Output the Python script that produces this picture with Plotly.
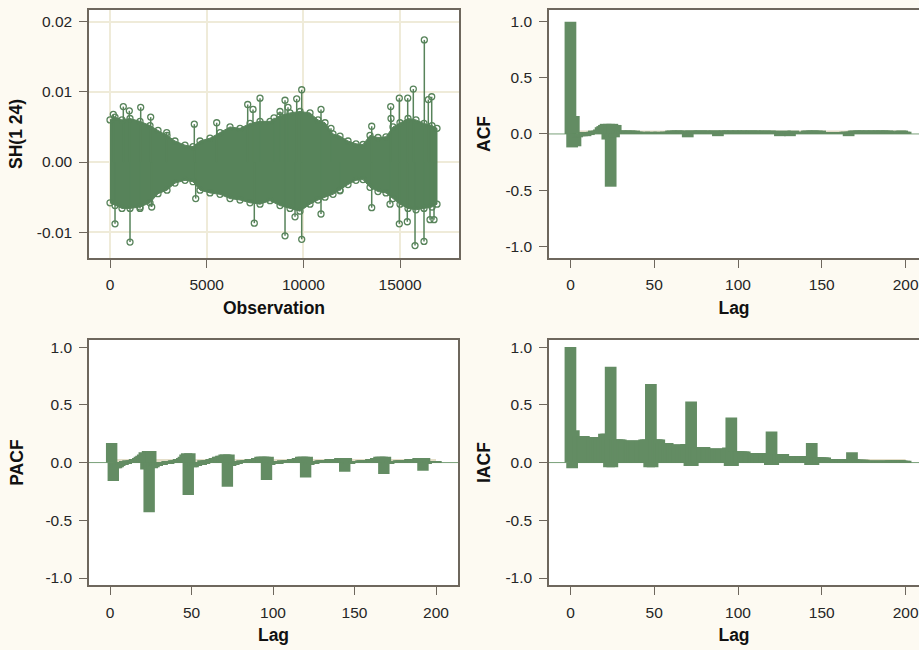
import plotly.graph_objects as go

# ---------------- data ----------------
# Time series SH(1 24): envelope of the dense needle block
env_obs = [0, 259, 620, 1034, 1551, 2068, 2482, 2947, 3360, 3878, 4291, 4653, 5170, 5687,
           6204, 6721, 7238, 7755, 8272, 8789, 9306, 9823, 10340, 10754, 11116, 11529, 11891,
           12305, 12718, 13080, 13442, 13856, 14269, 14631, 14993, 15407, 15820, 16234, 16647, 16906]
env_upper = [0.0060, 0.0064, 0.0060, 0.0062, 0.0058, 0.0052, 0.0045, 0.0038, 0.0030, 0.0024,
             0.0022, 0.0030, 0.0034, 0.0042, 0.0050, 0.0048, 0.0055, 0.0058, 0.0058, 0.0066,
             0.0070, 0.0072, 0.0070, 0.0060, 0.0056, 0.0040, 0.0037, 0.0030, 0.0026, 0.0025,
             0.0038, 0.0035, 0.0036, 0.0050, 0.0056, 0.0062, 0.0060, 0.0055, 0.0052, 0.0048]
env_lower = [-0.0058, -0.0062, -0.0066, -0.0066, -0.0064, -0.0058, -0.0045, -0.0040, -0.0030, -0.0026,
             -0.0028, -0.0040, -0.0044, -0.0046, -0.0052, -0.0054, -0.0058, -0.0060, -0.0055, -0.0062,
             -0.0066, -0.0070, -0.0060, -0.0054, -0.0050, -0.0046, -0.0040, -0.0032, -0.0026, -0.0025,
             -0.0036, -0.0042, -0.0044, -0.0052, -0.0060, -0.0066, -0.0068, -0.0066, -0.0064, -0.0060]
# individual spikes sticking out of the block
spike_obs = [171, 688, 998, 1587, 2104, 2931, 4358, 5516, 7119, 7393, 7755, 8479, 8789, 9048,
             9203, 9652, 9911, 10909, 11426, 13530, 14512, 14528, 14957, 15391, 15681, 16250,
             16456, 16632,
             259, 1034, 1551, 2156, 4431, 7460, 9048, 9565, 9911, 10909, 11891, 13530, 14476,
             14957, 15370, 15769, 16234, 16544, 16751]
spike_val = [0.0068, 0.0079, 0.0073, 0.0078, 0.0064, 0.0042, 0.0054, 0.0056, 0.0082, 0.0075,
             0.0091, 0.0063, 0.0072, 0.0088, 0.0078, 0.0090, 0.0103, 0.0075, 0.0048, 0.0051,
             0.0079, 0.0062, 0.0091, 0.0091, 0.0104, 0.0174, 0.0089, 0.0093,
             -0.0088, -0.0114, -0.0066, -0.0064, -0.0052, -0.0087, -0.0105, -0.0078, -0.0110,
             -0.0074, -0.0041, -0.0065, -0.0060, -0.0088, -0.0085, -0.0119, -0.0113, -0.0082, -0.0082]

# ACF, lags 0..200
acf_lags = list(range(0, 201))
acf_vals = [
    1.00, -0.12, 0.16, -0.11, -0.03, -0.02, -0.02, -0.02, 0.01, -0.02,
    0.01, -0.01, 0.01, 0.02, 0.03, 0.02, 0.03, 0.04, 0.06, 0.07,
    0.08, 0.09, -0.05, 0.09, -0.47, 0.09, -0.03, 0.08, 0.03, 0.02,
    0.03, 0.03, 0.02, 0.03, 0.02, 0.03, 0.03, 0.02, 0.03, 0.02,
    0.02, 0.015, 0.01, 0.015, 0.02, 0.015, 0.01, 0.015, 0.02, 0.015,
    0.015, 0.01, 0.015, 0.02, 0.015, 0.01, 0.015, 0.02, 0.015, 0.02,
    0.03, 0.03, 0.02, 0.03, 0.03, 0.02, 0.03, 0.02, 0.03, 0.02,
    -0.03, 0.02, 0.03, 0.03, 0.02, 0.03, 0.02, 0.03, 0.03, 0.02,
    0.03, 0.02, 0.03, 0.02, 0.03, 0.02, 0.03, 0.02, -0.02, 0.03,
    0.02, 0.03, 0.03, 0.02, 0.03, 0.03, 0.02, 0.03, 0.02, 0.03,
    0.03, 0.02, 0.03, 0.03, 0.02, 0.03, 0.02, 0.03, 0.03, 0.02,
    0.03, 0.02, 0.03, 0.02, 0.03, 0.02, 0.03, 0.02, 0.02, 0.03,
    0.02, 0.03, 0.02, 0.02, 0.02, -0.02, 0.02, 0.02, 0.03, 0.02,
    0.02, -0.02, 0.02, 0.03, 0.02, 0.015, 0.015, 0.01, 0.015, 0.015,
    0.02, 0.03, 0.03, 0.02, 0.03, 0.03, 0.02, 0.03, 0.02, 0.03,
    0.015, 0.015, 0.01, 0.015, 0.015, 0.015, 0.01, 0.015, 0.015, 0.015,
    0.015, 0.01, 0.015, 0.015, 0.02, 0.02, -0.02, 0.02, 0.02, 0.03,
    0.03, 0.02, 0.03, 0.03, 0.02, 0.03, 0.03, 0.02, 0.03, 0.02,
    0.03, 0.03, 0.02, 0.03, 0.03, 0.02, 0.03, 0.03, 0.02, 0.03,
    0.03, 0.02, 0.015, 0.015, 0.01, 0.015, 0.02, 0.03, 0.03, 0.02,
    0.02]

# PACF, lags 1..200
pacf_lags = list(range(1, 201))
pacf_vals = [
    0.17, -0.16, -0.05, -0.05, -0.04, -0.03, -0.02, -0.02, 0.01, -0.01,
    0.02, 0.01, 0.02, 0.02, 0.03, 0.03, 0.04, 0.05, 0.06, 0.07,
    0.09, -0.06, 0.10, -0.43, 0.10, -0.05, -0.04, -0.03, -0.03, -0.02,
    -0.02, -0.02, -0.01, -0.01, 0.01, -0.01, 0.01, 0.01, 0.02, 0.02,
    0.02, 0.03, 0.03, 0.04, 0.05, 0.07, 0.08, -0.28, 0.08, -0.04,
    -0.04, -0.03, -0.03, -0.02, -0.02, -0.02, 0.02, -0.01, 0.02, 0.02,
    0.02, 0.03, 0.03, 0.04, 0.04, 0.05, 0.05, 0.06, 0.06, 0.07,
    0.07, -0.21, 0.07, -0.03, -0.02, -0.02, -0.01, -0.01, 0.01, 0.01,
    0.02, 0.01, 0.02, 0.02, 0.02, 0.03, 0.03, 0.03, 0.03, 0.04,
    0.04, 0.05, 0.05, 0.05, 0.05, -0.15, 0.05, -0.02, -0.01, -0.01,
    -0.01, 0.01, -0.01, 0.01, 0.01, 0.02, 0.01, 0.02, 0.02, 0.02,
    0.02, 0.03, 0.03, 0.03, 0.04, 0.04, 0.05, 0.05, 0.05, -0.13,
    0.05, -0.02, -0.01, -0.01, -0.01, 0.01, 0.01, 0.01, 0.02, 0.02,
    0.02, 0.02, 0.02, 0.02, 0.03, 0.03, 0.03, 0.03, 0.03, 0.03,
    0.04, 0.04, 0.04, -0.08, 0.04, -0.01, -0.01, 0.01, 0.01, 0.01,
    0.01, 0.01, 0.01, 0.02, 0.02, 0.02, 0.02, 0.02, 0.02, 0.03,
    0.03, 0.03, 0.04, 0.04, 0.05, 0.05, 0.05, -0.10, 0.05, -0.01,
    -0.01, 0.01, 0.01, 0.01, 0.01, 0.01, 0.02, 0.02, 0.02, 0.02,
    0.02, 0.02, 0.02, 0.03, 0.03, 0.03, 0.03, 0.03, 0.04, 0.04,
    0.04, -0.07, 0.04, -0.01, 0.01, 0.01, 0.01, 0.01, 0.01, 0.01]

# IACF, lags 0..200
iacf_lags = list(range(0, 201))
iacf_vals = [
    1.00, -0.05, 0.28, 0.23, 0.23, 0.23, 0.23, 0.23, 0.23, 0.22,
    0.22, 0.22, 0.22, 0.22, 0.22, 0.22, 0.22, 0.22, 0.22, 0.22,
    0.25, 0.25, 0.25, -0.04, 0.83, -0.04, 0.20, 0.20, 0.20, 0.20,
    0.20, 0.19, 0.19, 0.19, 0.19, 0.19, 0.19, 0.19, 0.19, 0.19,
    0.19, 0.19, 0.19, 0.19, 0.20, 0.20, 0.20, -0.04, 0.68, -0.04,
    0.20, 0.20, 0.20, 0.20, 0.17, 0.17, 0.17, 0.17, 0.17, 0.155,
    0.155, 0.155, 0.155, 0.155, 0.155, 0.155, 0.155, 0.155, 0.155, 0.16,
    0.16, -0.03, 0.53, -0.03, 0.135, 0.135, 0.135, 0.135, 0.135, 0.135,
    0.135, 0.12, 0.12, 0.12, 0.12, 0.12, 0.12, 0.12, 0.12, 0.12,
    0.12, 0.12, 0.12, 0.12, 0.13, -0.03, 0.39, -0.03, 0.095, 0.095,
    0.095, 0.095, 0.095, 0.095, 0.095, 0.08, 0.08, 0.08, 0.08, 0.08,
    0.08, 0.08, 0.08, 0.08, 0.08, 0.08, 0.08, 0.08, 0.08, -0.02,
    0.27, -0.02, 0.075, 0.075, 0.075, 0.075, 0.075, 0.075, 0.055, 0.055,
    0.055, 0.055, 0.055, 0.055, 0.055, 0.055, 0.055, 0.055, 0.055, 0.055,
    0.055, 0.055, 0.055, -0.02, 0.17, -0.02, 0.045, 0.045, 0.045, 0.045,
    0.045, 0.045, 0.045, 0.03, 0.03, 0.03, 0.03, 0.03, 0.03, 0.03,
    0.03, 0.03, 0.03, 0.03, 0.03, 0.03, 0.03, 0.03, 0.09, 0.03,
    0.025, 0.025, 0.025, 0.025, 0.025, 0.025, 0.015, 0.015, 0.015, 0.015,
    0.015, 0.015, 0.015, 0.015, 0.015, 0.015, 0.015, 0.015, 0.015, 0.015,
    0.015, 0.02, 0.02, 0.02, 0.02, 0.02, 0.02, 0.02, 0.015, 0.015,
    0.015]

ts_xticks = [0, 5000, 10000, 15000]
ts_xticktext = ["0", "5000", "10000", "15000"]
ts_yticks = [-0.01, 0.0, 0.01, 0.02]
ts_yticktext = ["-0.01", "0.00", "0.01", "0.02"]
lag_ticks = [0, 50, 100, 150, 200]
lag_ticktext = ["0", "50", "100", "150", "200"]
cf_ticks = [-1.0, -0.5, 0.0, 0.5, 1.0]
cf_ticktext = ["-1.0", "-0.5", "0.0", "0.5", "1.0"]

# ---------------- style ----------------
TS_GREEN = "#57835a"
BAR_GREEN = "#638c63"
BEIGE = "#e4dec9"
ZERO = "#79a079"
PAGE = "#fdfaf2"
AXIS = "#6e675d"
GRID = "#efebd9"
FONT = "Liberation Sans, Arial, sans-serif"
TICKFONT = dict(family=FONT, size=15.5, color="#262626")
TITLEFONT = dict(family=FONT, size=17.5, color="#111111", weight="bold")

W, H = 919, 650
def xd(a, b):
    return [a / W, b / W]
def yd(top, bottom):
    return [(H - bottom) / H, (H - top) / H]

fig = go.Figure()

# time-series block
fig.add_trace(go.Scatter(
    x=env_obs + env_obs[::-1], y=env_upper + env_lower[::-1],
    fill="toself", fillcolor=TS_GREEN, mode="lines",
    line=dict(color=TS_GREEN, width=1), xaxis="x", yaxis="y",
    hoverinfo="skip", showlegend=False))
nx, ny = [], []
for o, v in zip(spike_obs, spike_val):
    nx += [o, o, None]
    ny += [0, v, None]
fig.add_trace(go.Scatter(x=nx, y=ny, mode="lines", line=dict(color=TS_GREEN, width=1.5),
                         xaxis="x", yaxis="y", hoverinfo="skip", showlegend=False))
fig.add_trace(go.Scatter(
    x=env_obs + env_obs + spike_obs, y=env_upper + env_lower + spike_val,
    mode="markers", marker=dict(symbol="circle-open", size=6, color=TS_GREEN,
                                line=dict(width=1.3, color=TS_GREEN)),
    xaxis="x", yaxis="y", showlegend=False))

for lags, vals, xa, ya in [(acf_lags, acf_vals, "x2", "y2"),
                           (pacf_lags, pacf_vals, "x3", "y3"),
                           (iacf_lags, iacf_vals, "x4", "y4")]:
    fig.add_trace(go.Bar(x=lags, y=vals, width=7, marker=dict(color=BAR_GREEN, line=dict(width=0)),
                         xaxis=xa, yaxis=ya, showlegend=False))

shapes = []
for xa, ya in [("x2", "y2"), ("x3", "y3"), ("x4", "y4")]:
    shapes.append(dict(type="line", xref=xa + " domain", yref=ya, x0=0, x1=1, y0=0, y1=0,
                       line=dict(color=ZERO, width=1), layer="below"))
    shapes.append(dict(type="rect", xref=xa, yref=ya, x0=1, x1=200, y0=0, y1=0.03,
                       fillcolor=BEIGE, line=dict(width=0), layer="below"))

def xaxis(domain, rng, tickvals, ticktext, title, anchor, grid=False):
    return dict(domain=domain, range=rng, tickvals=tickvals, ticktext=ticktext, anchor=anchor,
                showline=True, linecolor=AXIS, linewidth=1.5, mirror=True,
                ticks="outside", ticklen=8, tickcolor=AXIS, tickwidth=1,
                tickfont=TICKFONT, zeroline=False, showgrid=grid, gridcolor=GRID, gridwidth=1.5,
                title=dict(text=title, font=TITLEFONT, standoff=9), ticklabelstandoff=4)

def yaxis(domain, rng, tickvals, ticktext, title, anchor, mirror, standoff=10, grid=False):
    return dict(domain=domain, range=rng, tickvals=tickvals, ticktext=ticktext, anchor=anchor,
                showline=True, linecolor=AXIS, linewidth=1.5, mirror=mirror,
                ticks="outside", ticklen=8, tickcolor=AXIS, tickwidth=1,
                tickfont=TICKFONT, zeroline=False, showgrid=grid, gridcolor=GRID, gridwidth=1.5,
                title=dict(text=title, font=TITLEFONT, standoff=standoff), ticklabelstandoff=4)

top = (9, 257.7)
bot = (340, 586)
fig.update_layout(
    width=W, height=H, margin=dict(l=0, r=0, t=0, b=0),
    paper_bgcolor=PAGE, plot_bgcolor="white", barmode="overlay", showlegend=False,
    font=dict(family=FONT),
    xaxis=xaxis(xd(89, 459), [-1086, 18043], ts_xticks, ts_xticktext, "Observation", "y", grid=True),
    yaxis=yaxis(yd(*top), [-0.01365, 0.02166], ts_yticks, ts_yticktext, "SH(1 24)", "x", True, grid=True),
    xaxis2=xaxis(xd(549, 919), [-12.8, 208], lag_ticks, lag_ticktext, "Lag", "y2"),
    yaxis2=yaxis(yd(*top), [-1.104, 1.104], cf_ticks, cf_ticktext, "ACF", "x2", False),
    xaxis3=xaxis(xd(89, 458), [-12.9, 213.5], lag_ticks, lag_ticktext, "Lag", "y3"),
    yaxis3=yaxis(yd(*bot), [-1.062, 1.062], cf_ticks, cf_ticktext, "PACF", "x3", True, standoff=17),
    xaxis4=xaxis(xd(549, 919), [-12.8, 208], lag_ticks, lag_ticktext, "Lag", "y4"),
    yaxis4=yaxis(yd(*bot), [-1.062, 1.062], cf_ticks, cf_ticktext, "IACF", "x4", False),
    shapes=shapes,
)

fig.write_html("out.html")
